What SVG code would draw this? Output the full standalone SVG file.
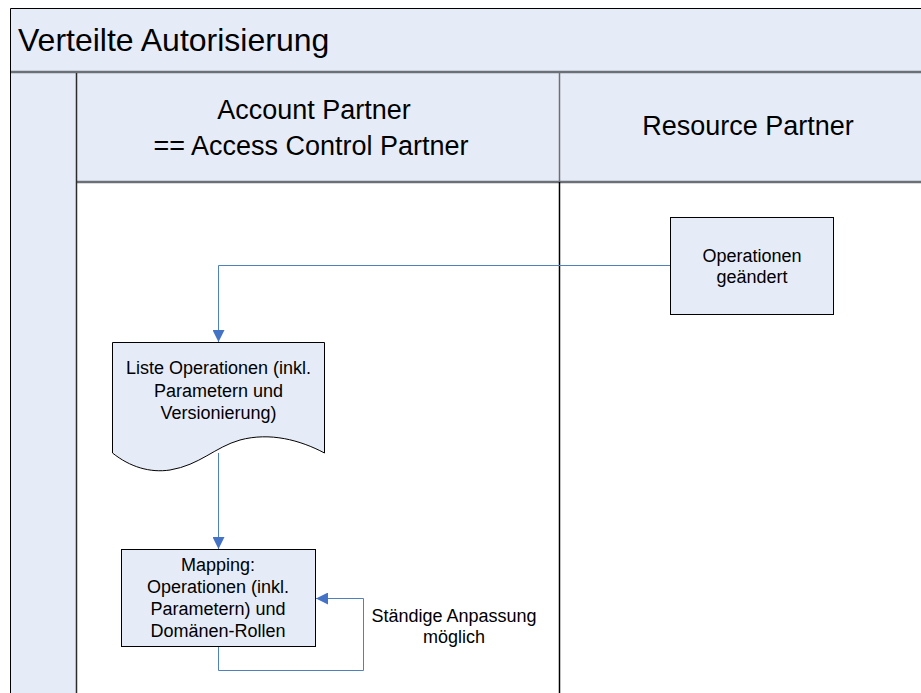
<svg xmlns="http://www.w3.org/2000/svg" width="921" height="693" viewBox="0 0 921 693">
  <style>
    .pool { fill: #E6ECF7; }
    .frame { fill: none; stroke: #000; stroke-width: 1; }
    .sep { stroke: #6B6F76; stroke-width: 2.5; fill: none; }
    .lane { fill: #FFFFFF; }
    .node { fill: #E6ECF7; stroke: #000; stroke-width: 1; }
    .edge { fill: none; stroke: #4F81BD; stroke-width: 1; }
    .t { font-family: "Liberation Sans", Arial, sans-serif; fill: #000; }
    .title { font-size: 32px; }
    .hdr { font-size: 27px; text-anchor: middle; }
    .lbl { font-size: 18px; text-anchor: middle; }
  </style>
  <defs>
    <marker id="arrow" viewBox="0 0 12 12" refX="12" refY="6" markerWidth="12" markerHeight="12" markerUnits="userSpaceOnUse" orient="auto">
      <path d="M0,0 L12,6 L0,12 z" fill="#4472C4"/>
    </marker>
  </defs>

  <rect width="921" height="693" fill="#FFFFFF"/>

  <!-- pool: title bar and lane header band -->
  <g id="pool">
    <rect class="pool" x="10.5" y="8.5" width="920" height="690"/>
    <rect class="lane" x="76.5" y="182.5" width="850" height="520"/>
    <text class="t title" x="18" y="51">Verteilte Autorisierung</text>
    <line class="sep" x1="10.5" y1="72" x2="921" y2="72"/>
    <line class="sep" x1="76.5" y1="182" x2="921" y2="182"/>
    <line class="frame" x1="10.5" y1="8.5" x2="921" y2="8.5"/>
    <line class="frame" x1="10.5" y1="8.5" x2="10.5" y2="693"/>
    <line x1="76.5" y1="73" x2="76.5" y2="693" stroke="#2B2B2B" stroke-width="1.5"/>
    <line x1="559.5" y1="73" x2="559.5" y2="182" stroke="#6B6F76" stroke-width="1.5"/>
    <line x1="559.5" y1="182" x2="559.5" y2="693" stroke="#000" stroke-width="1.5"/>
  </g>

  <g id="lane-account">
    <text class="t hdr" x="314" y="119">Account Partner</text>
    <text class="t hdr" x="311" y="155">== Access Control Partner</text>
  </g>

  <g id="lane-resource">
    <text class="t hdr" x="748" y="135">Resource Partner</text>
  </g>

  <!-- connectors -->
  <g id="connectors">
    <path class="edge" d="M670,265.5 H218.5 V342" marker-end="url(#arrow)"/>
    <path class="edge" d="M218.5,453 V549" marker-end="url(#arrow)"/>
    <path class="edge" d="M218.5,647 V670.5 H363.5 V598.5 H316" marker-end="url(#arrow)"/>
  </g>

  <g id="node-operationen-geaendert">
    <rect class="node" x="670.5" y="217.5" width="163" height="97"/>
    <text class="t lbl" x="752" y="262">Operationen</text>
    <text class="t lbl" x="752" y="283">geändert</text>
  </g>

  <g id="node-liste-operationen">
    <path class="node" d="M112.5,342.5 H324.5 V453 C300,440 270,432 240,440 C215,447 200,465 170,470 C150,473 130,467 112.5,453 Z"/>
    <text class="t lbl" x="218.5" y="374">Liste Operationen (inkl.</text>
    <text class="t lbl" x="218.5" y="396.5">Parametern und</text>
    <text class="t lbl" x="218.5" y="418.5">Versionierung)</text>
  </g>

  <g id="node-mapping">
    <rect class="node" x="121.5" y="549.5" width="194" height="97"/>
    <text class="t lbl" x="218" y="571">Mapping:</text>
    <text class="t lbl" x="218" y="593">Operationen (inkl.</text>
    <text class="t lbl" x="218" y="615">Parametern) und</text>
    <text class="t lbl" x="218" y="637">Domänen-Rollen</text>
  </g>

  <g id="label-anpassung">
    <text class="t lbl" x="454" y="622">Ständige Anpassung</text>
    <text class="t lbl" x="454" y="643">möglich</text>
  </g>
</svg>
